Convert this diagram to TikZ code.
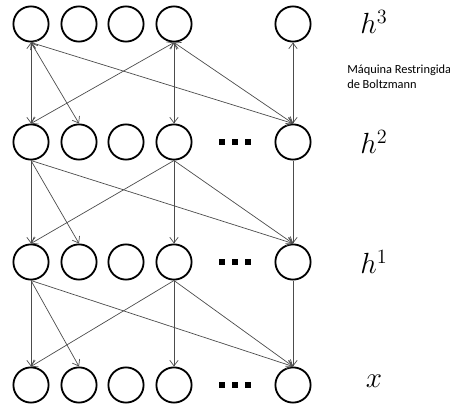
\documentclass[tikz,border=0pt]{standalone}
\usepackage{fontspec}
\newfontfamily\notefont{Carlito}
\usetikzlibrary{arrows.meta}

\tikzset{
  unit/.style={circle, draw, line width=1.3pt, minimum size=0.88cm, inner sep=0pt},
  link/.style={draw=black!70, line width=0.5pt, -{Straight Barb[length=4pt,width=6pt]}},
  rbm/.style={link, {Straight Barb[length=4pt,width=6pt]}-{Straight Barb[length=4pt,width=6pt]}},
  gap/.style={rectangle, fill, inner sep=0pt, minimum size=3.8pt},
  layer/.style={font=\fontsize{20}{24}\selectfont},
}

\begin{document}
\begin{tikzpicture}[x=0.025cm, y=-0.025cm]
    \useasboundingbox (0,0) rectangle (450,408);
    \foreach \r/\y in {3/24, 2/142, 1/262, 0/385} {
        \foreach \c/\x in {1/31, 2/79, 3/126, 4/174, 5/293}
            \node[unit] (u\r\c) at (\x,\y) {};
    }
    \foreach \r/\y in {2/142, 1/262, 0/385} {
        \foreach \k/\x in {1/222, 2/235, 3/248}
            \node[gap] (dot\r\k) at (\x,\y) {};
    }
    \foreach \a/\b in {1/1, 1/2, 1/5, 4/1, 4/4, 4/5, 5/5}
        \draw[rbm] (u3\a.south) -- (u2\b.north);
    \foreach \a/\b in {1/1, 1/2, 1/5, 4/1, 4/4, 4/5, 5/5} {
        \draw[link] (u2\a.south) -- (u1\b.north);
        \draw[link] (u1\a.south) -- (u0\b.north);
    }
    \node[layer] (h3) at (374,22) {$h^3$};
    \node[layer] (h2) at (374,142) {$h^2$};
    \node[layer] (h1) at (374,262) {$h^1$};
    \node[layer] (x) at (374,381) {$x$};
    \node[font=\notefont\fontsize{8.8}{10.6}\selectfont, align=left, anchor=north west, inner sep=0pt] (rbmnote) at (347,65)
        {Máquina Restringida\\de Boltzmann};
\end{tikzpicture}
\end{document}
